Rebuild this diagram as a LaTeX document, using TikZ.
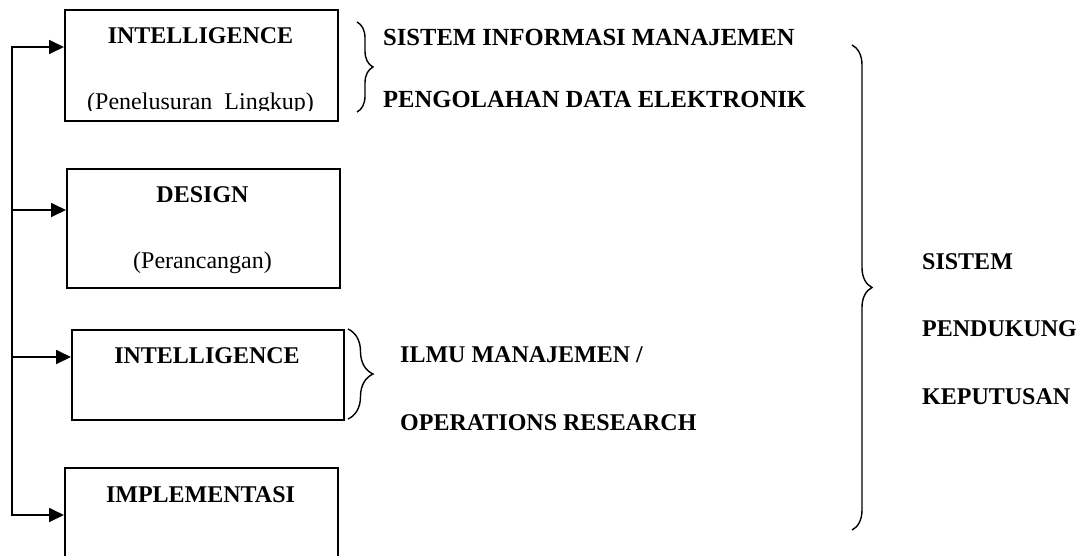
\documentclass[tikz,border=0pt]{standalone}
\usepackage{fontspec}
\setmainfont{Liberation Serif}
\usetikzlibrary{arrows.meta,decorations.pathreplacing}
\begin{document}
\begin{tikzpicture}[x=1pt,y=-1pt,
  box/.style={draw, line width=1.8pt, inner sep=0pt, anchor=north west},
  boldtxt/.style={inner sep=0pt, font=\fontsize{24}{28}\selectfont\bfseries},
  widetxt/.style={inner sep=0pt, font=\fontsize{24.6}{28}\selectfont\bfseries},
  plaintxt/.style={inner sep=0pt, font=\fontsize{24}{28}\selectfont},
  tip/.tip={Triangle[length=15pt,width=14pt]},
  rail/.style={line width=1.8pt},
  arr/.style={line width=1.8pt, -tip},
  brc/.style={line width=1.4pt, decorate}]
\useasboundingbox (0,0) rectangle (1087,555);
\clip (0,0) rectangle (1087,555);

% phase boxes
\node[box, minimum width=273pt, minimum height=111pt] (b1) at (64,9) {};
\node[box, minimum width=273pt, minimum height=119pt] (b2) at (66,168) {};
\node[box, minimum width=272pt, minimum height=90pt]  (b3) at (71,329) {};
\node[box, minimum width=273pt, minimum height=160pt] (b4) at (64,467) {};

% box captions
\node[boldtxt, anchor=base] (t1) at (200.5,43) {INTELLIGENCE};
\begin{scope}
  \clip (64,9) rectangle (337,110.5);
  \node[plaintxt, anchor=base] (p1) at (200.5,109) {(Penelusuran\ \ Lingkup)};
\end{scope}
\node[boldtxt, anchor=base] (t2) at (202.5,202) {DESIGN};
\node[plaintxt, anchor=base] (p2) at (202.5,268) {(Perancangan)};
\node[boldtxt, anchor=base] (t3) at (207,363) {INTELLIGENCE};
\node[boldtxt, anchor=base] (t4) at (200.5,502) {IMPLEMENTASI};

% feedback rail on the left
\coordinate (r1) at (12,47);
\coordinate (r2) at (12,210);
\coordinate (r3) at (12,357);
\coordinate (r4) at (12,515);
\draw[rail, tip-tip] (r1 -| b1.west) -- (r1) -- (r4) -- (r4 -| b4.west);
\draw[arr] (r2) -- (r2 -| b2.west);
\draw[arr] (r3) -- (r3 -| b3.west);

% braces
\draw[brc, decoration={brace, amplitude=16pt}] (357,22) -- (357,112);
\draw[brc, decoration={brace, amplitude=25pt}] (348,329) -- (348,419);
\draw[brc, decoration={brace, amplitude=20pt}] (852,45) -- (852,530);

% grouping labels
\node[widetxt, anchor=base west] (s1) at (383,45) {SISTEM INFORMASI MANAJEMEN};
\node[widetxt, anchor=base west] (s2) at (383,107) {PENGOLAHAN DATA ELEKTRONIK};
\node[boldtxt, anchor=base west] (s3) at (400,362) {ILMU MANAJEMEN /};
\node[boldtxt, anchor=base west] (s4) at (400,430) {OPERATIONS RESEARCH};
\node[boldtxt, anchor=base west] (d1) at (922,269) {SISTEM};
\node[boldtxt, anchor=base west] (d2) at (922,336) {PENDUKUNG};
\node[boldtxt, anchor=base west] (d3) at (922,404) {KEPUTUSAN};
\end{tikzpicture}
\end{document}
